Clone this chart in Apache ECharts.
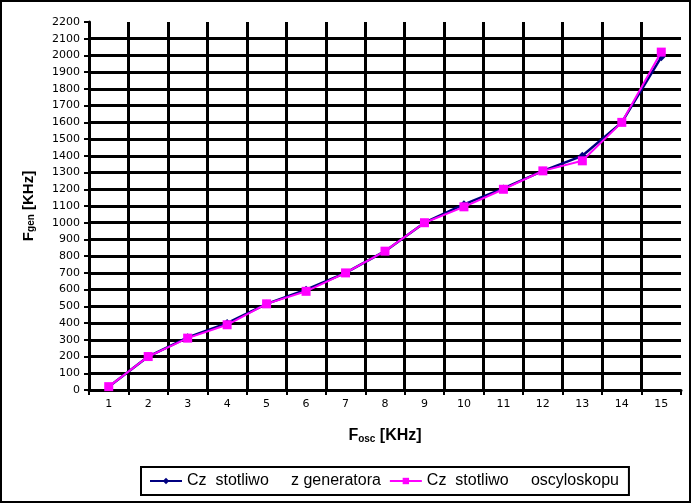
<!DOCTYPE html>
<html><head><meta charset="utf-8">
<script src="https://cdn.jsdelivr.net/npm/echarts@6/dist/echarts.min.js"></script>
<style>html,body{margin:0;padding:0;background:#fff}#c{width:693px;height:504px}</style>
</head><body><div id="c"></div>
<script>
var categories = ['1','2','3','4','5','6','7','8','9','10','11','12','13','14','15'];
var generatorValues = [20, 200, 315, 400, 515, 600, 700, 830, 1000, 1110, 1205, 1310, 1400, 1600, 1990];
var oscilloscopeValues = [20, 200, 310, 390, 515, 590, 700, 830, 1000, 1095, 1200, 1310, 1370, 1600, 2020];
var seriesNames = ['Cz  stotliwo     z generatora', 'Cz  stotliwo     oscyloskopu'];
var yMin = 0, yMax = 2200, yStep = 100;

var chart = echarts.init(document.getElementById('c'), null, {renderer: 'canvas'});
var lblFont = 'DejaVu Sans';
var lineW = 3;
chart.setOption({
  animation: false,
  backgroundColor: '#fff',
  graphic: [{type: 'rect', shape: {x: 1, y: 1, width: 689, height: 501},
    style: {fill: 'none', stroke: '#000', lineWidth: 2}, silent: true}],
  grid: {left: 89, top: 22, right: 12, bottom: 114},
  xAxis: {
    type: 'category', data: categories, boundaryGap: true,
    axisLine: {lineStyle: {color: '#000', width: lineW}},
    axisTick: {show: true, length: 5, lineStyle: {color: '#000', width: 2}},
    axisLabel: {color: '#000', fontFamily: lblFont, fontSize: 11, margin: 9},
    splitLine: {show: true, showMaxLine: false, lineStyle: {color: '#000', width: lineW}},
    name: '{b|F}{s|osc}{b| [KHz]}', nameLocation: 'middle', nameGap: 38,
    nameTextStyle: {rich: {
      b: {fontFamily: 'Liberation Sans', fontWeight: 'bold', fontSize: 16, color: '#000', verticalAlign: 'bottom'},
      s: {fontFamily: 'Liberation Sans', fontWeight: 'bold', fontSize: 10, color: '#000', verticalAlign: 'bottom'}
    }}
  },
  yAxis: {
    type: 'value', min: yMin, max: yMax, interval: yStep,
    axisLine: {show: true, lineStyle: {color: '#000', width: lineW}},
    axisTick: {show: true, length: 5, lineStyle: {color: '#000', width: 2}},
    axisLabel: {color: '#000', fontFamily: lblFont, fontSize: 11, margin: 9,
      formatter: function (v) { return String(v); }},
    splitLine: {show: true, showMaxLine: false, lineStyle: {color: '#000', width: lineW}},
    name: '{b|F}{s|gen}{b| [KHz]}', nameLocation: 'middle', nameGap: 53, nameRotate: 90,
    nameTextStyle: {rich: {
      b: {fontFamily: 'Liberation Sans', fontWeight: 'bold', fontSize: 15, color: '#000', verticalAlign: 'bottom'},
      s: {fontFamily: 'Liberation Sans', fontWeight: 'bold', fontSize: 10, color: '#000', verticalAlign: 'bottom'}
    }}
  },
  legend: {
    left: 141, top: 467, orient: 'horizontal',
    borderColor: '#000', borderWidth: 2, borderRadius: 0,
    padding: [6, 10, 6, 8], itemGap: 8, itemWidth: 32, itemHeight: 8,
    textStyle: {fontFamily: 'Liberation Sans', fontSize: 16, color: '#000'},
    data: seriesNames
  },
  series: [
    {name: seriesNames[0], type: 'line', data: generatorValues, symbol: 'diamond', symbolSize: 8,
     lineStyle: {color: '#000080', width: 2.5}, itemStyle: {color: '#000080'}, z: 2},
    {name: seriesNames[1], type: 'line', data: oscilloscopeValues, symbol: 'rect', symbolSize: 9,
     lineStyle: {color: '#ff00ff', width: 2}, itemStyle: {color: '#ff00ff'}, z: 3}
  ]
});
</script></body></html>
